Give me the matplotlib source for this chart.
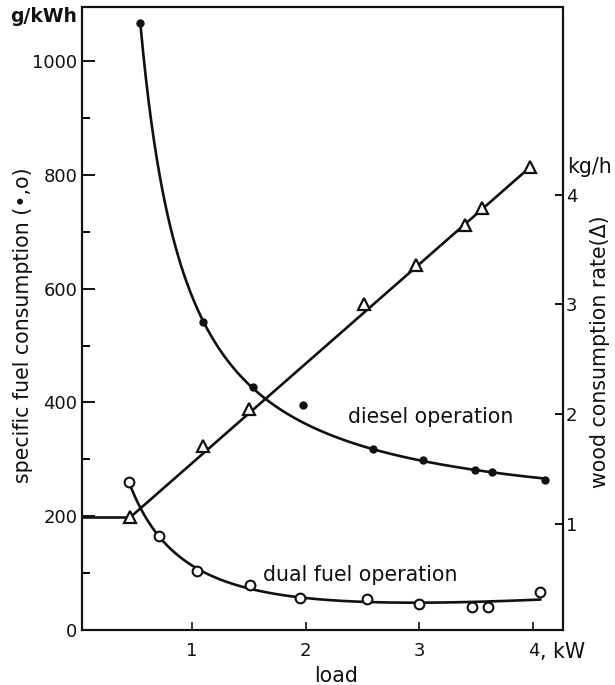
import matplotlib
matplotlib.use('Agg')
import matplotlib.pyplot as plt
import numpy as np

# diesel operation (filled dots), specific fuel consumption g/kWh
diesel_load = np.array([0.55, 1.10, 1.54, 1.98, 2.59, 3.03, 3.49, 3.64, 4.10])
diesel_sfc = np.array([1066, 541, 427, 395, 318, 298, 282, 278, 263])
diesel_on_curve = np.array([1, 1, 1, 0, 1, 1, 1, 1, 1], dtype=bool)  # 1.98 kW point lies off the drawn curve

# dual fuel operation (open circles), g/kWh
dual_load = np.array([0.45, 0.71, 1.05, 1.51, 1.95, 2.54, 3.00, 3.46, 3.60, 4.06])
dual_sfc = np.array([260, 165, 104, 79, 57, 55, 45, 41, 40, 67])

# wood consumption rate (triangles), kg/h
wood_load = np.array([0.46, 1.10, 1.50, 2.51, 2.97, 3.40, 3.55, 3.97])
wood_rate = np.array([1.06, 1.71, 2.05, 3.00, 3.36, 3.72, 3.88, 4.25])

x_ticks = [1, 2, 3, 4]
left_ticks = [0, 200, 400, 600, 800, 1000]
left_minor = [100, 300, 500, 700, 900]
right_ticks = [1, 2, 3, 4]

FS = 13      # tick labels
FL = 14.8    # labels / annotations
INK = '#111111'
plt.rcParams['font.family'] = 'DejaVu Sans'

W, H = 615, 685
fig = plt.figure(figsize=(W / 100, H / 100), dpi=100)
L, R, T, B = 81.7, 563, 7, 630
ax = fig.add_axes([L / W, 1 - B / H, (R - L) / W, (B - T) / H])
ax2 = ax.twinx()

ax.set_xlim(0.035, 4.26)
ax.set_ylim(0, 1095)
ax2.set_ylim(0.034, 5.71)

# smooth curves fitted to the data: y = a + b/x + c/x^2
def inv_basis(x):
    return np.column_stack([np.ones_like(x), 1 / x, 1 / x**2])

c_d = np.linalg.lstsq(inv_basis(diesel_load[diesel_on_curve]),
                      diesel_sfc[diesel_on_curve], rcond=None)[0]
xs = np.linspace(diesel_load[0], diesel_load[-1], 300)
ax.plot(xs, inv_basis(xs) @ c_d, color=INK, lw=1.9, zorder=3)

A = np.column_stack([inv_basis(dual_load), dual_load])
c_f = np.linalg.lstsq(A, dual_sfc, rcond=None)[0]
xf = np.linspace(dual_load[0], dual_load[-1], 300)
ax.plot(xf, np.column_stack([inv_basis(xf), xf]) @ c_f, color=INK, lw=1.9, zorder=3)

# wood: straight line first -> last point, flat line to the left axis
ax2.plot(wood_load[[0, -1]], wood_rate[[0, -1]], color=INK, lw=1.9, zorder=3)
ax2.plot([0, wood_load[0]], [wood_rate[0]] * 2, color=INK, lw=1.9, zorder=3)

# markers
ax.plot(diesel_load, diesel_sfc, 'o', color=INK, ms=5, zorder=5)
ax.plot(dual_load, dual_sfc, 'o', mfc='white', mec=INK, mew=1.5, ms=7, zorder=5)
ax2.plot(wood_load, wood_rate, '^', mfc='white', mec=INK, mew=1.6, ms=8, zorder=5)

# axes styling
for a in (ax, ax2):
    for s in a.spines.values():
        s.set_linewidth(1.5)
        s.set_color(INK)

ax.set_xticks(x_ticks)
ax.set_xticklabels([str(t) for t in x_ticks])
ax.set_yticks(left_ticks)
ax.set_yticks(left_minor, minor=True)
ax.tick_params(axis='y', which='major', direction='in', length=9, width=1.4, pad=3,
               labelsize=FS, colors=INK)
ax.tick_params(axis='y', which='minor', direction='in', length=6, width=1.4)
ax.tick_params(axis='x', direction='in', length=6, width=1.2, pad=9, labelsize=FS, colors=INK)

ax2.set_yticks(right_ticks)
ax2.tick_params(axis='y', direction='in', length=6, width=1.4, pad=2, labelsize=FS, colors=INK)

# unit after the last x tick label
ax.annotate(', kW', xy=(x_ticks[-1], 0), xycoords=('data', 'axes fraction'),
            xytext=(5, -9), textcoords='offset points', ha='left', va='top',
            fontsize=FL, color=INK)

# labels
fig.text(44 / W, 1 - 16 / H, 'g/kWh', ha='center', va='center', fontsize=13.5,
         fontweight='bold', color=INK)
fig.text(23 / W, 1 - 325 / H, 'specific fuel consumption (•,o)', rotation=90,
         ha='center', va='center', fontsize=FL, color=INK)
fig.text(567 / W, 1 - 167 / H, 'kg/h', ha='left', va='center', fontsize=FL, color=INK)
fig.text(600 / W, 1 - 352 / H, 'wood consumption rate(Δ)', rotation=90,
         ha='center', va='center', fontsize=FL, color=INK)
fig.text(336 / W, 1 - 676 / H, 'load', ha='center', va='center', fontsize=FL, color=INK)

ax.text(2.37, 374, 'diesel operation', ha='left', va='center', fontsize=FL, color=INK)
ax.text(1.625, 97, 'dual fuel operation', ha='left', va='center', fontsize=FL, color=INK)

fig.savefig('out.png', dpi=100, facecolor='white')
